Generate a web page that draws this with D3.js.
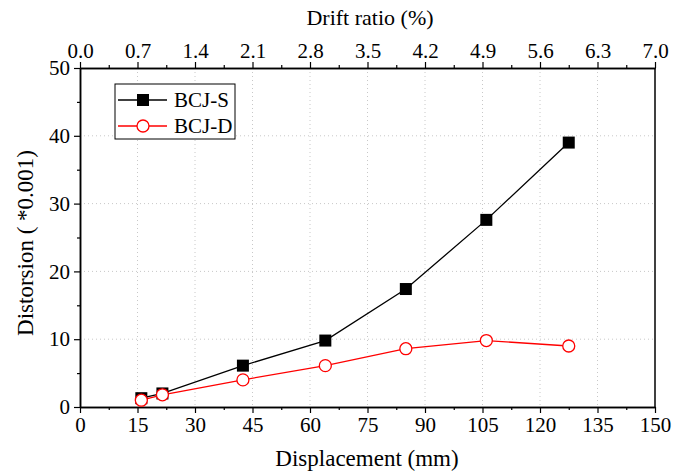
<!DOCTYPE html>
<html>
<head>
<meta charset="utf-8">
<script src="https://cdn.jsdelivr.net/npm/d3@7"></script>
<style>
  body { margin: 0; background: #fff; }
</style>
</head>
<body>
<svg id="chart" width="674" height="474"></svg>
<script>
// displacement (mm) of each loading step
const displacement = [16, 21.5, 42.5, 64, 85, 106, 127.5];
const bcjS = [1.3, 2.0, 6.1, 9.8, 17.4, 27.6, 39.0];
const bcjD = [1.0, 1.8, 4.0, 6.1, 8.6, 9.8, 9.0];
const xTicks = [0, 15, 30, 45, 60, 75, 90, 105, 120, 135, 150];
const driftTicks = [0.0, 0.7, 1.4, 2.1, 2.8, 3.5, 4.2, 4.9, 5.6, 6.3, 7.0];
const yTicks = [0, 10, 20, 30, 40, 50];

const svg = d3.select("#chart");
const m = { left: 80, right: 655, top: 68, bottom: 407 };

const x = d3.scaleLinear().domain([0, 150]).range([m.left, m.right]);
const xTop = d3.scaleLinear().domain([0, 7]).range([m.left, m.right]);
const y = d3.scaleLinear().domain([0, 50]).range([m.bottom, m.top]);

// dotted grid
const grid = svg.append("g").attr("stroke", "#c8c8c8").attr("stroke-dasharray", "1,3").attr("stroke-width", 1);
xTicks.slice(1, -1).forEach(t => {
  grid.append("line").attr("x1", x(t)).attr("x2", x(t)).attr("y1", m.top).attr("y2", m.bottom);
});
yTicks.slice(1, -1).forEach(t => {
  grid.append("line").attr("x1", m.left).attr("x2", m.right).attr("y1", y(t)).attr("y2", y(t));
});

const styleAxis = g => {
  g.selectAll("path").attr("stroke", "#000").attr("stroke-width", 1.5);
  g.selectAll("line").attr("stroke", "#000").attr("stroke-width", 1.2);
  g.selectAll("text").style("font-size", "21px");
};

// minor ticks first
svg.append("g").attr("transform", `translate(0,${m.bottom})`)
  .call(d3.axisBottom(x).tickValues(d3.range(7.5, 150, 15)).tickSize(3).tickFormat("").tickSizeOuter(0))
  .call(styleAxis);
svg.append("g").attr("transform", `translate(0,${m.top})`)
  .call(d3.axisTop(xTop).tickValues(d3.range(0.35, 7, 0.7)).tickSize(3).tickFormat("").tickSizeOuter(0))
  .call(styleAxis);
svg.append("g").attr("transform", `translate(${m.left},0)`)
  .call(d3.axisLeft(y).tickValues([5, 15, 25, 35, 45]).tickSize(3).tickFormat("").tickSizeOuter(0))
  .call(styleAxis);

svg.append("g").attr("transform", `translate(0,${m.bottom})`)
  .call(d3.axisBottom(x).tickValues(xTicks).tickSize(6).tickPadding(4).tickFormat(d3.format("d")).tickSizeOuter(0))
  .call(styleAxis);
svg.append("g").attr("transform", `translate(0,${m.top})`)
  .call(d3.axisTop(xTop).tickValues(driftTicks).tickSize(6).tickPadding(4).tickFormat(d3.format(".1f")).tickSizeOuter(0))
  .call(styleAxis);
svg.append("g").attr("transform", `translate(${m.left},0)`)
  .call(d3.axisLeft(y).tickValues(yTicks).tickSize(6).tickPadding(4).tickFormat(d3.format("d")).tickSizeOuter(0))
  .call(styleAxis);
svg.append("line").attr("x1", m.right).attr("x2", m.right).attr("y1", m.top).attr("y2", m.bottom)
  .attr("stroke", "#000").attr("stroke-width", 1.5);

// axis titles
svg.append("text").attr("x", 367).attr("y", 466).attr("text-anchor", "middle")
  .style("font-size", "23px").text("Displacement (mm)");
svg.append("text").attr("x", 370).attr("y", 25).attr("text-anchor", "middle")
  .style("font-size", "22px").text("Drift ratio (%)");
svg.append("text").attr("transform", `translate(33,243) rotate(-90)`)
  .attr("text-anchor", "middle").style("font-size", "23px").text("Distorsion ( *0.001)");

const line = d3.line().x((d, i) => x(displacement[i])).y(d => y(d));

svg.append("path").datum(bcjS).attr("d", line).attr("fill", "none").attr("stroke", "#000").attr("stroke-width", 1.3);
svg.append("path").datum(bcjD).attr("d", line).attr("fill", "none").attr("stroke", "#ff0000").attr("stroke-width", 1.3);

svg.append("g").selectAll("rect").data(bcjS).join("rect")
  .attr("x", (d, i) => x(displacement[i]) - 6).attr("y", d => y(d) - 6)
  .attr("width", 12).attr("height", 12).attr("fill", "#000");
svg.append("g").selectAll("circle").data(bcjD).join("circle")
  .attr("cx", (d, i) => x(displacement[i])).attr("cy", d => y(d)).attr("r", 6)
  .attr("fill", "#fff").attr("stroke", "#ff0000").attr("stroke-width", 1.3);

// legend
const lg = svg.append("g");
lg.append("rect").attr("x", 115).attr("y", 84).attr("width", 120).attr("height", 55)
  .attr("fill", "#fff").attr("stroke", "#000").attr("stroke-width", 1);
lg.append("line").attr("x1", 118).attr("x2", 167).attr("y1", 100).attr("y2", 100).attr("stroke", "#000").attr("stroke-width", 1.3);
lg.append("rect").attr("x", 137).attr("y", 94).attr("width", 12).attr("height", 12).attr("fill", "#000");
lg.append("text").attr("x", 174).attr("y", 107).style("font-size", "21px").text("BCJ-S");
lg.append("line").attr("x1", 118).attr("x2", 167).attr("y1", 126).attr("y2", 126).attr("stroke", "#ff0000").attr("stroke-width", 1.3);
lg.append("circle").attr("cx", 143).attr("cy", 126).attr("r", 6).attr("fill", "#fff").attr("stroke", "#ff0000").attr("stroke-width", 1.3);
lg.append("text").attr("x", 174).attr("y", 133).style("font-size", "21px").text("BCJ-D");

svg.selectAll("text").style("font-family", '"Liberation Serif"').attr("fill", "#000");
</script>
</body>
</html>
